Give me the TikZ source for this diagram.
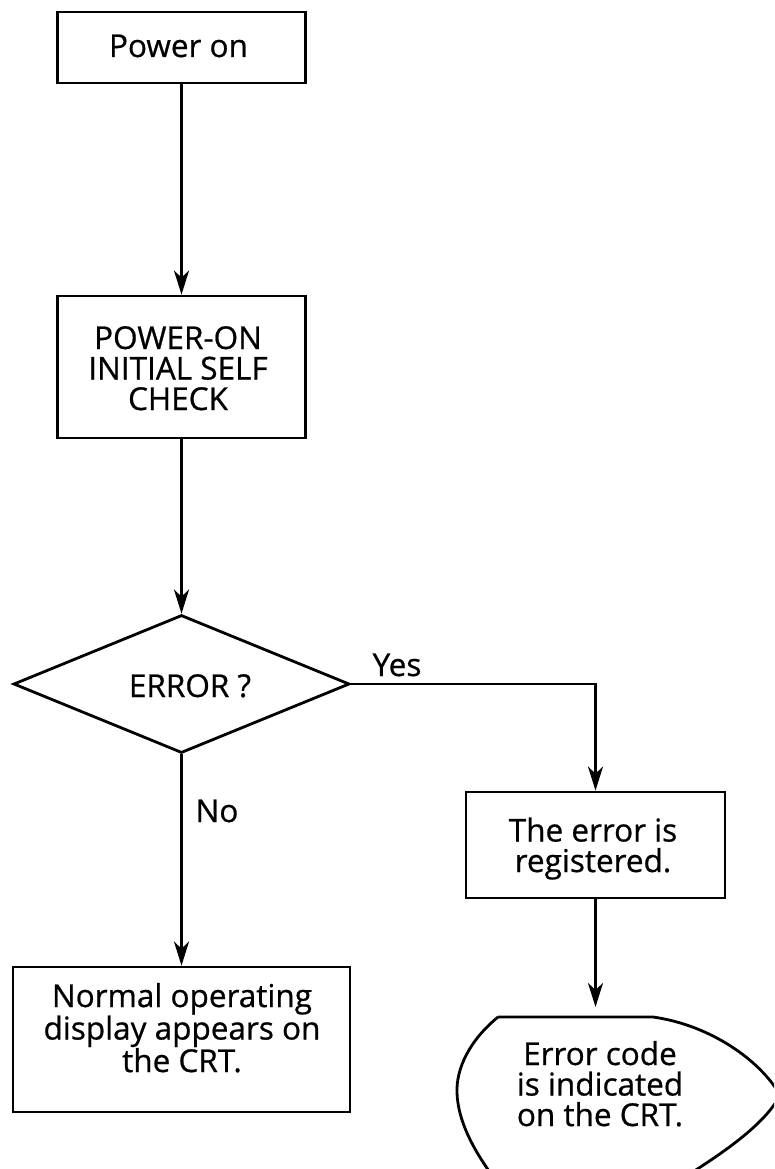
\documentclass[tikz,border=0pt]{standalone}
\usepackage{fontspec}
\newfontfamily\chartfont{Open Sans}[FakeBold=0.7]
\usetikzlibrary{arrows.meta,shapes.geometric}
\begin{document}
\begin{tikzpicture}[x=1pt,y=-1pt,
  line width=2.8pt,
  lbl/.style={inner sep=0pt, font=\chartfont\fontsize{31.5pt}{30.5pt}\selectfont},
  procbox/.style={draw, rectangle, inner sep=0pt},
  decision/.style={draw, diamond, inner sep=0pt},
  flow/.style={-{Stealth[length=24pt,width=15pt,inset=7pt]}}
]
\useasboundingbox (0,0) rectangle (774,1169);
\clip (0,0) rectangle (774,1169);

% process boxes
\node[procbox, minimum width=248pt, minimum height=71pt]  (poweron) at (181.5,47.5) {};
\node[procbox, minimum width=248pt, minimum height=142pt] (check)   at (181.5,367) {};
\node[decision, minimum width=336pt, minimum height=138pt] (dec)    at (181.5,684) {};
\node[procbox, minimum width=259pt, minimum height=106pt] (reg)     at (595.5,845) {};
\node[procbox, minimum width=337pt, minimum height=145pt] (normal)  at (181.5,1039.5) {};

% display symbol, running off the bottom and right edges
\draw (498,1017) -- (653,1017)
  .. controls (710,1025) and (760,1060) .. (780,1095)
  .. controls (765,1125) and (720,1155) .. (680,1180);
\draw (498,1017)
  .. controls (470,1040) and (456,1068) .. (457,1093)
  .. controls (458,1120) and (472,1148) .. (494,1178);
\coordinate (disptop) at (595.5,1007);

% texts (base anchor sits on the last line)
\node[lbl, anchor=base] (tpower) at (178.5,57) {Power on};
\node[lbl, anchor=base, align=center] (tcheck) at (178,410) {POWER-ON\\INITIAL SELF\\CHECK};
\node[lbl, anchor=base] (terror) at (190,697) {ERROR ?};
\node[lbl, anchor=base] (tyes) at (397,676) {Yes};
\node[lbl, anchor=base] (tno) at (217,822) {No};
\node[lbl, anchor=base, align=center] (treg) at (593,872) {The error is\\registered.};
\node[lbl, anchor=base, align=center] (tnormal) at (182,1072) {Normal operating\\display appears on\\the CRT.};
\node[lbl, anchor=base, align=center] (tdisp) at (600,1126) {Error code\\is indicated\\on the CRT.};

% connectors
\draw[flow] (poweron.south) -- (check.north);
\draw[flow] (check.south) -- (dec.north);
\draw[flow] (dec.east) -| (reg.north);
\draw[flow] (dec.south) -- (normal.north);
\draw[flow] (reg.south) -- (disptop);
\end{tikzpicture}
\end{document}
